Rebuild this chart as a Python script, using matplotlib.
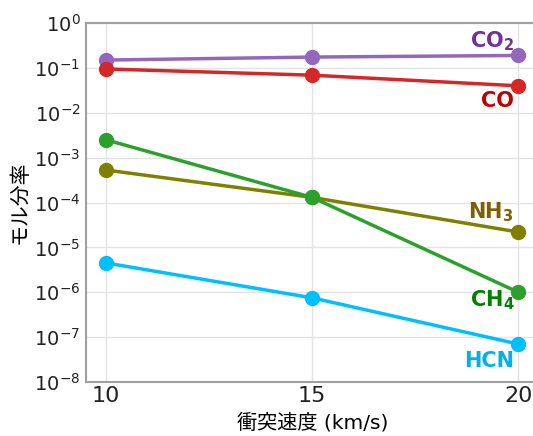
import numpy as np
import matplotlib
matplotlib.use('Agg')
import matplotlib.pyplot as plt
from matplotlib.ticker import LogFormatterMathtext, NullLocator

plt.rcParams['font.family'] = ['DejaVu Sans', 'Noto Sans CJK JP']
plt.rcParams['mathtext.fontset'] = 'dejavusans'

# impact velocity (km/s)
speed = [10, 15, 20]

# mole fractions
co2 = [0.15, 0.175, 0.19]
co = [0.095, 0.069, 0.04]
ch4 = [2.5e-3, 1.3e-4, 1.0e-6]
nh3 = [5.3e-4, 1.3e-4, 2.2e-5]
hcn = [4.5e-6, 7.5e-7, 7.0e-8]

species = [
    (co2, '#9467bd', r'CO$_\mathbf{2}$', '#7030a0', 0.40),
    (co, '#d62728', 'CO', '#c00000', 0.018),
    (nh3, '#808000', r'NH$_\mathbf{3}$', '#7f6000', 6.2e-5),
    (ch4, '#2ca02c', r'CH$_\mathbf{4}$', '#008000', 6.6e-7),
    (hcn, '#00bfff', 'HCN', '#00b0f0', 3.0e-8),
]

fig = plt.figure(figsize=(5.33, 4.36), dpi=100)
ax = fig.add_axes([0.161, 0.124, 0.85, 0.823])

for vals, c, lab, lc, ly in species:
    ax.plot(speed, vals, color=c, lw=2.5, marker='o', ms=10, zorder=3)
    ax.text(19.9, ly, lab, color=lc, fontsize=15, fontweight='bold',
            ha='right', va='center')

ax.set_yscale('log')
ax.set_ylim(1e-8, 1)
ax.set_xlim(9.51, 20.5)
ax.set_xticks([10, 15, 20])
ax.set_yticks([10.0 ** k for k in range(-8, 1)])
ax.yaxis.set_major_formatter(LogFormatterMathtext())
ax.yaxis.set_minor_locator(NullLocator())
ax.grid(True, color='#e3e3e3', lw=1)
ax.set_axisbelow(True)

ax.spines['right'].set_visible(False)
for s in ['left', 'bottom', 'top']:
    ax.spines[s].set_color('#a0a0a0')
    ax.spines[s].set_linewidth(1.5)
ax.tick_params(axis='both', length=0, colors='#222222', labelsize=14, pad=4)
ax.tick_params(axis='x', labelsize=16, pad=3)

ax.set_xlabel('衝突速度 (km/s)', fontsize=14.5)
ax.xaxis.set_label_coords(0.5, -0.085)
ax.set_ylabel('モル分率', fontsize=15, labelpad=3)

fig.savefig('out.png', dpi=100)
